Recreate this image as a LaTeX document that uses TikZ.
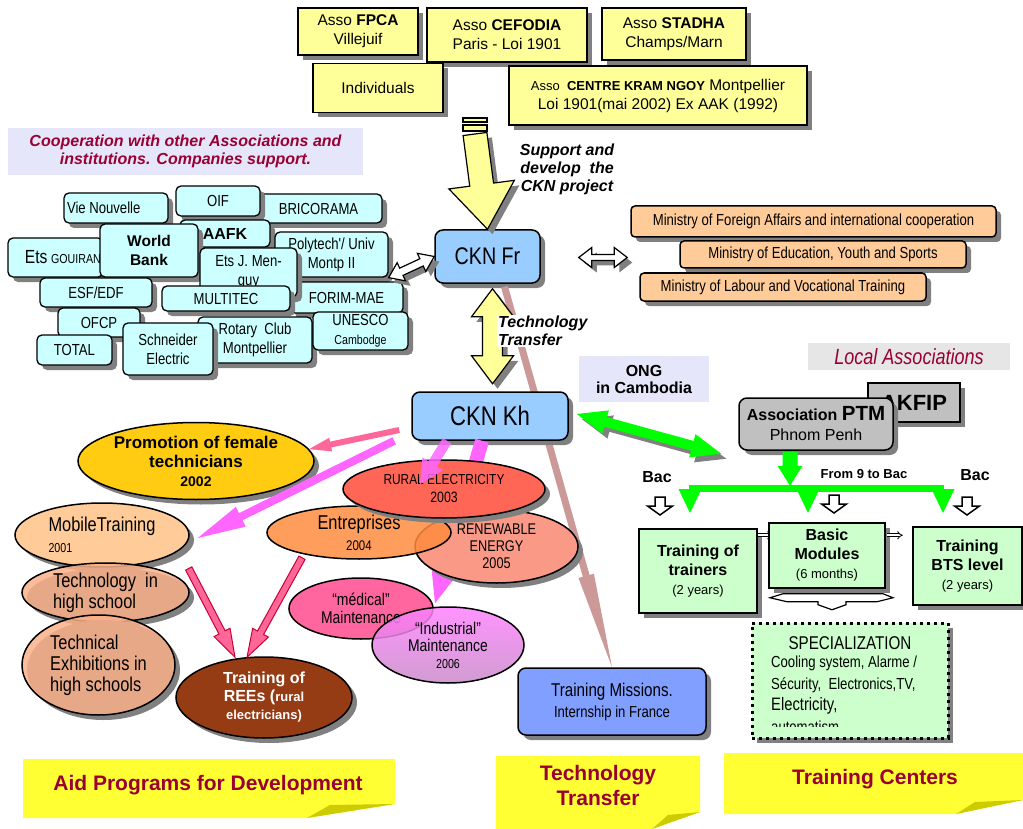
\documentclass[tikz,border=0pt]{standalone}
\usepackage{fontspec}
\setmainfont{Liberation Sans}
\newfontfamily\narrowfont{Liberation Sans}[FakeStretch=0.82]
\usepackage{xcolor}
\usepackage{tikz}
\usetikzlibrary{calc}
\usetikzlibrary{shapes.geometric}
\usetikzlibrary{shadows}
\usetikzlibrary{arrows.meta}

\definecolor{assoyellow}{HTML}{FFFF99}
\definecolor{partnercyan}{HTML}{CCFFFF}
\definecolor{cknblue}{HTML}{99CCFF}
\definecolor{ministryorange}{HTML}{FFCC99}
\definecolor{lavend}{HTML}{E6E6FA}
\definecolor{labelgray}{HTML}{E6E6E6}
\definecolor{wine}{HTML}{990033}
\definecolor{ptmgray}{HTML}{C0C0C0}
\definecolor{coursegreen}{HTML}{CCFFCC}
\definecolor{brightgreen}{HTML}{00FF00}
\definecolor{magentaarrow}{HTML}{FF66FF}
\definecolor{rosepink}{HTML}{FF6699}
\definecolor{rosybrownarrow}{HTML}{CC9999}
\definecolor{missionblue}{HTML}{809FFF}
\definecolor{noteyellow}{HTML}{FFFF33}
\definecolor{notefold}{HTML}{CCCC00}
\definecolor{promogold}{HTML}{FFCC11}
\definecolor{peach}{HTML}{FFCC99}
\definecolor{salmon}{HTML}{FAB08A}
\definecolor{reesbrown}{HTML}{963C14}
\definecolor{entrorange}{HTML}{FF8C40}
\definecolor{ruralred}{HTML}{FF6655}
\definecolor{renewsalmon}{HTML}{FA9985}
\definecolor{medpink}{HTML}{FF66A0}
\definecolor{indviolet}{HTML}{FF80FF}
\definecolor{indmauve}{HTML}{C88CC8}
\definecolor{darkcrimson}{HTML}{CC0033}

\newcommand\fsz[2]{\fontsize{#1}{#2}\selectfont}
\newcommand\blockarrow[6]{%
	\coordinate (baA) at (#2);
	\coordinate (baB) at (#3);
	\coordinate (baH) at ($(baB)!#6!(baA)$);
	\path[#1] ($(baA)!#4!90:(baB)$) -- ($(baH)!#4!90:(baB)$) -- ($(baH)!#5!90:(baB)$) -- (baB)
	-- ($(baH)!#5!-90:(baB)$) -- ($(baH)!#4!-90:(baB)$) -- ($(baA)!#4!-90:(baB)$) -- cycle;}
\newcommand\twinarrow[6]{%
	\coordinate (baA) at (#2);
	\coordinate (baB) at (#3);
	\coordinate (baH) at ($(baA)!#6!(baB)$);
	\coordinate (baK) at ($(baB)!#6!(baA)$);
	\path[#1] (baA) -- ($(baH)!#5!90:(baB)$) -- ($(baH)!#4!90:(baB)$) -- ($(baK)!#4!90:(baB)$) -- ($(baK)!#5!90:(baB)$) -- (baB)
	-- ($(baK)!#5!-90:(baB)$) -- ($(baK)!#4!-90:(baB)$) -- ($(baH)!#4!-90:(baB)$) -- ($(baH)!#5!-90:(baB)$) -- cycle;}

\begin{document}
\begin{tikzpicture}[x=1pt,y=-1pt,
	boxshadow/.style={drop shadow={shadow xshift=5pt,shadow yshift=-5pt,fill=black!50,opacity=1}},
	asso/.style={draw,line width=1.5pt,fill=assoyellow,boxshadow,inner sep=0pt,align=center,font=\fsz{15.5}{19}},
	partner/.style={draw,line width=1.3pt,fill=partnercyan,rounded corners=5pt,boxshadow,inner sep=0pt,align=center,font=\narrowfont\fsz{16}{19}},
	ckn/.style={draw,line width=1.5pt,fill=cknblue,rounded corners=8pt,boxshadow,inner sep=0pt,align=center},
	ministry/.style={draw,line width=1.5pt,fill=ministryorange,rounded corners=4pt,boxshadow,inner sep=0pt,font=\narrowfont\fsz{16}{18}},
	course/.style={draw,line width=1.5pt,fill=coursegreen,boxshadow,inner sep=0pt,align=center,font=\bfseries\fsz{16}{19}},
	prog/.style={ellipse,draw,line width=1.5pt,inner sep=-10pt,align=center,font=\narrowfont\fsz{20}{21}},
	caption/.style={inner sep=1pt,align=center,font=\bfseries\itshape\fsz{16}{18}},
	sticky/.style={fill=noteyellow},
	fold/.style={fill=notefold},
	notetext/.style={align=center,text=wine,font=\bfseries\fsz{21}{25}},
	hollow/.style={draw,line width=1.2pt,fill=white,boxshadow},
	smallhollow/.style={draw,line width=1.5pt,fill=white},
	yellowarrow/.style={draw,line width=1.2pt,fill=assoyellow,boxshadow},
	greenarrow/.style={fill=brightgreen,boxshadow},
	violetarrow/.style={fill=magentaarrow},
	reearrow/.style={fill=rosepink,draw=darkcrimson,line width=1pt}]
	\useasboundingbox (0,0) rectangle (1023,829);
	
	\fill[sticky] (23,759) -- (395,759) -- (395,804) -- (307,818) -- (23,818) -- cycle;
	\fill[fold] (307,818) -- (330,805) -- (395,804) -- cycle;
	\node[notetext] (aidnote) at (208,785) {Aid Programs for Development};
	\fill[sticky] (496,756) -- (700,756) -- (700,812) -- (652,829) -- (496,829) -- cycle;
	\fill[fold] (652,829) -- (668,815) -- (700,812) -- cycle;
	\node[notetext] (ttnote) at (598,785) {Technology\\Transfer};
	\fill[sticky] (724,753) -- (1023,753) -- (1023,800) -- (956,814) -- (724,814) -- cycle;
	\fill[fold] (956,814) -- (975,802) -- (1023,800) -- cycle;
	\node[notetext] (tcnote) at (875,779) {Training Centers};
	
	\node[asso,minimum width=120pt,minimum height=47pt] (fpca) at (358,31.5) {Asso \textbf{FPCA}\\Villejuif};
	\node[asso,minimum width=160pt,minimum height=54pt] (cefodia) at (507,35) {Asso \textbf{CEFODIA}\\Paris - Loi 1901};
	\node[asso,minimum width=144pt,minimum height=52pt] (stadha) at (674,34) {Asso \textbf{STADHA}\\Champs/Marn};
	\node[asso,minimum width=130pt,minimum height=49pt] (indiv) at (378,88) {Individuals};
	\node[asso,minimum width=298pt,minimum height=59pt] (kram) at (658,95.5) {{\fsz{13}{19}Asso\ \ \textbf{CENTRE KRAM NGOY}} Montpellier\\Loi 1901(mai 2002) Ex AAK (1992)};
	
	\node[fill=lavend,minimum width=355pt,minimum height=47pt,inner sep=0pt,align=center,text=wine,font=\bfseries\itshape\fsz{16}{18}] (coop) at (185.5,151.5) {Cooperation with other Associations and\\institutions. Companies support.};
	
	\node[partner,minimum width=104pt,minimum height=30pt] (vie) at (116,208) {\makebox[104pt][l]{\hspace{3pt}Vie Nouvelle}};
	\node[partner,minimum width=127pt,minimum height=29pt] (bric) at (318.5,208.5) {BRICORAMA};
	\node[partner,minimum width=84pt,minimum height=30pt] (oif) at (218,201) {OIF};
	\node[partner,minimum width=90pt,minimum height=27pt,font=\bfseries\fsz{16}{19}] (aafk) at (225,233.5) {AAFK};
	\node[partner,minimum width=113pt,minimum height=45pt] (poly) at (331.5,254.5) {Polytech'/ Univ\\Montp II};
	\node[partner,minimum width=113pt,minimum height=31pt] (forim) at (346.5,297.5) {FORIM-MAE};
	\node[partner,minimum width=95pt,minimum height=39pt] (gouir) at (55.5,257.5) {\makebox[95pt][l]{\hspace{17pt}{\fsz{19}{22}Ets} {\fsz{13}{15}GOUIRAND}}};
	\node[partner,minimum width=98pt,minimum height=53pt,font=\bfseries\fsz{15.5}{19}] (wb) at (149,250.5) {World\\Bank};
	\node[partner,minimum width=97pt,minimum height=49pt] (menguy) at (248.5,272.5) {Ets J. Men-\\guy};
	\node[partner,minimum width=112pt,minimum height=29pt] (esf) at (96,292.5) {ESF/EDF};
	\node[partner,minimum width=128pt,minimum height=25pt] (multi) at (226,298.5) {MULTITEC};
	\node[partner,minimum width=82pt,minimum height=29pt] (ofcp) at (99,322.5) {OFCP};
	\node[partner,minimum width=75pt,minimum height=30pt] (total) at (74.5,350) {TOTAL};
	\node[partner,minimum width=114pt,minimum height=46pt] (rotary) at (255,340) {Rotary\ \ Club\\Montpellier};
	\node[partner,minimum width=90pt,minimum height=52pt] (schn) at (168,349) {Schneider\\Electric};
	\node[partner,minimum width=95pt,minimum height=38pt] (unesco) at (360.5,331) {UNESCO\\{\fsz{13}{16}Cambodge}};
	
	\node[ckn,minimum width=105pt,minimum height=53pt,font=\narrowfont\fsz{24}{28}] (ckfr) at (487.5,256.5) {CKN Fr};
	\draw[line width=1.2pt,fill=assoyellow] (463,118) rectangle (487,122);
	\draw[line width=1.2pt,fill=assoyellow] (463,125) rectangle (487,131);
	\coordinate (suptop) at (475,134);
	\blockarrow{yellowarrow}{suptop}{ckfr.north}{12pt}{33pt}{45pt}
	\node[caption] (supp) at (567,169) {Support and\\develop\ \ the\\CKN project};
	
	\node[ministry,minimum width=365pt,minimum height=31pt] (mfa) at (813.5,221.5) {Ministry of Foreign Affairs and international cooperation};
	\node[ministry,minimum width=286pt,minimum height=27pt] (med) at (823,254.5) {Ministry of Education, Youth and Sports};
	\node[ministry,minimum width=286pt,minimum height=28pt] (mlv) at (783,287) {Ministry of Labour and Vocational Training};
	\coordinate (minl) at ($(ckfr.east)+(38,1)$);
	\coordinate (minr) at ($(mfa.west |- minl)+(-3,0)$);
	\twinarrow{hollow}{minl}{minr}{3pt}{10pt}{13pt}
	\twinarrow{hollow}{poly.south east}{ckfr.west}{4pt}{10pt}{14pt}
	
	\node[ckn,fill=missionblue,minimum width=188pt,minimum height=67pt,font=\narrowfont\fsz{18.5}{21}] (trm) at (612,701.5) {Training Missions.\\{\fsz{16}{21}Internship in France}};
	\blockarrow{fill=rosybrownarrow}{$(ckfr.south)+(17,3)$}{trm.north}{3.5pt}{8pt}{95pt}
	\twinarrow{yellowarrow}{$(ckfr.south)+(5,5)$}{$(ckfr.south)+(5,100)$}{10pt}{21pt}{28pt}
	\node[caption,fill=white,align=left,anchor=west] (ttlab) at (497,331) {Technology\\Transfer};
	\node[ckn,minimum width=156pt,minimum height=48pt,font=\narrowfont\fsz{27}{30}] (ckkh) at (490,416) {CKN Kh};
	
	\node[fill=lavend,minimum width=130pt,minimum height=46pt,inner sep=0pt,align=center,font=\bfseries\fsz{16}{17}] (ong) at (644,379) {ONG\\in Cambodia};
	\node[fill=labelgray,minimum width=202pt,minimum height=27pt,inner sep=0pt,text=wine,font=\narrowfont\itshape\fsz{22}{24}] (locas) at (909,356.5) {Local Associations};
	\node[draw,line width=1.5pt,fill=ptmgray,boxshadow,minimum width=92pt,minimum height=39pt,inner sep=0pt,font=\bfseries\fsz{22}{24}] (akfip) at (914,402.5) {AKFIP};
	\node[draw,line width=1.5pt,fill=ptmgray,rounded corners=8pt,boxshadow,minimum width=154pt,minimum height=52pt,inner sep=0pt,align=center,font=\fsz{16}{20}] (ptm) at (816,424) {\textbf{Association} {\bfseries\fsz{20.5}{20}PTM}\\Phnom Penh};
	
	\twinarrow{greenarrow}{$(ckkh.east)+(8,-2)$}{$(ptm.south west)+(-17,3)$}{5pt}{12pt}{30pt}
	\blockarrow{fill=brightgreen}{$(ptm.south)+(-26,1)$}{$(ptm.south)+(-26,35)$}{7.5pt}{12.5pt}{20pt}
	\draw[line width=7pt,brightgreen] (689,488.5) -- (944,488.5);
	\coordinate (ttip) at (690,513);
	\coordinate (btip) at (808,513);
	\coordinate (stip) at (943,513);
	\foreach \t in {ttip,btip,stip}{
		\fill[brightgreen] ($(\t)+(-11.5,-24)$) -- ($(\t)+(11.5,-24)$) -- (\t) -- cycle;
	}
	\node[font=\bfseries\fsz{16}{18}] (bacl) at (657,477) {Bac};
	\node[font=\bfseries\fsz{16}{18}] (bacr) at (975,475) {Bac};
	\node[font=\bfseries\fsz{13}{15}] (from9) at (864,474) {From 9 to Bac};
	\foreach \x/\y in {660/497,834/495,967/497}{
		\blockarrow{smallhollow}{\x,\y}{\x,\y+18}{5pt}{12.5pt}{9pt}
	}
	
	\node[course,minimum width=118pt,minimum height=84pt] (ttr) at (698,571) {Training of\\trainers\\{\mdseries\fsz{13}{18}(2 years)}};
	\draw[double,double distance=2pt,line width=.8pt,-{Implies}] ($(ttr.north east)+(0,7)$) -- ($(ttr.north east)+(15,7)$);
	\node[course,minimum width=116pt,minimum height=65pt] (bmod) at (827,555.5) {Basic\\Modules\\{\mdseries\fsz{13}{17}(6 months)}};
	\draw[double,double distance=2pt,line width=.8pt,-{Implies}] ($(bmod.north east)+(1,13)$) -- ($(bmod.north east)+(17,13)$);
	\node[course,minimum width=109pt,minimum height=78pt] (bts) at (967.5,566) {Training\\BTS level\\{\mdseries\fsz{13}{18}(2 years)}};
	\begin{scope}[shift={(bmod.south)}]
		\draw[line width=1.2pt,fill=white] (-57,9) -- (-44,5) -- (56,5) -- (66,9) -- (50,13) -- (19,13) -- (19,16) -- (5,21) -- (-9,16) -- (-9,13) -- (-40,13) -- cycle;
	\end{scope}
	\node[draw,line width=3pt,dash pattern=on 3pt off 4pt,fill=coursegreen,boxshadow,minimum width=196pt,minimum height=115pt,inner sep=0pt] (spec) at (850,680.5) {};
	\node[font=\narrowfont\fsz{18.5}{20}] (spechead) at (850,643) {SPECIALIZATION};
	\begin{scope}
		\clip ($(spec.north west)+(3,3)$) rectangle ($(spec.south east)+(-3,-13)$);
		\node[anchor=north west,align=left,inner sep=0pt,font=\narrowfont\fsz{16}{21.5}] (specbody) at (771,656) {Cooling system, Alarme /\\S\'ecurity,\ \ Electronics,TV,\\{\fsz{18}{21.5}Electricity,}\\automatism};
	\end{scope}
	
	\node[prog,fill=promogold,boxshadow,minimum width=236pt,minimum height=77pt,font=\bfseries\fsz{17}{19}] (promo) at (196,461) {Promotion of female\\technicians\\{\fsz{14}{16}2002}};
	\node[prog,fill=peach,boxshadow,minimum width=174pt,minimum height=64pt,align=left] (mobile) at (102,535) {MobileTraining\\{\fsz{13}{18}2001}};
	\node[prog,fill=salmon,fill opacity=.85,text opacity=1,boxshadow,minimum width=167pt,minimum height=59pt,align=left] (techhs) at (105.5,592.5) {Technology\ \ in\\high school};
	\node[prog,fill=salmon,fill opacity=.85,text opacity=1,boxshadow,minimum width=153pt,minimum height=100pt,align=left] (exhib) at (98.5,665) {Technical\\Exhibitions in\\high schools};
	\node[prog,fill=reesbrown,boxshadow,minimum width=176pt,minimum height=81pt,text=white,font=\bfseries\fsz{16}{18}] (rees) at (264,697.5) {Training of\\REEs ({\fsz{13}{18}rural}\\{\fsz{13}{18}electricians)}};
	\node[prog,fill=medpink,minimum width=144pt,minimum height=61pt,font=\narrowfont\fsz{17}{18}] (medic) at (361,608.5) {“médical”\\Maintenance};
	\node[prog,top color=indviolet,bottom color=indmauve,fill opacity=.85,text opacity=1,minimum width=152pt,minimum height=76pt,font=\narrowfont\fsz{17}{17}] (indus) at (448,645) {“Industrial”\\Maintenance\\{\fsz{13}{17}2006}};
	\blockarrow{violetarrow}{$(ckkh.south)+(-8,0)$}{$(indus.north)+(-13,-3)$}{7pt}{12pt}{30pt}
	\node[prog,fill=renewsalmon,boxshadow,minimum width=163pt,minimum height=73pt,font=\narrowfont\fsz{15.5}{17}] (renew) at (496.5,546.5) {RENEWABLE\\ENERGY\\2005};
	\node[prog,fill=entrorange,fill opacity=.85,text opacity=1,minimum width=184pt,minimum height=53pt] (entr) at (359,532.5) {Entreprises\\{\fsz{14}{19}2004}};
	\node[prog,fill=ruralred,boxshadow,minimum width=202pt,minimum height=58pt,font=\narrowfont\fsz{14.5}{18}] (rural) at (444,489) {RURAL ELECTRICITY\\{\fsz{15}{18}2003}};
	
	\blockarrow{violetarrow,opacity=.85}{$(ckkh.south)+(-43,0)$}{$(rural.north)+(-24,25)$}{5pt}{12pt}{24pt}
	\blockarrow{violetarrow}{$(ckkh.south west)+(-17,0)$}{$(mobile.east)+(8,3)$}{4pt}{11pt}{48pt}
	\blockarrow{fill=rosepink}{$(ckkh.west)+(-12,14)$}{promo.6}{3pt}{7pt}{22pt}
	\blockarrow{reearrow}{$(techhs.east)+(-1,-24)$}{$(rees.north)+(-29,1)$}{3.5pt}{9pt}{28pt}
	\blockarrow{reearrow}{$(entr.south)+(-57,-2)$}{$(rees.north)+(-17,1)$}{3.5pt}{9pt}{28pt}
\end{tikzpicture}
\end{document}
